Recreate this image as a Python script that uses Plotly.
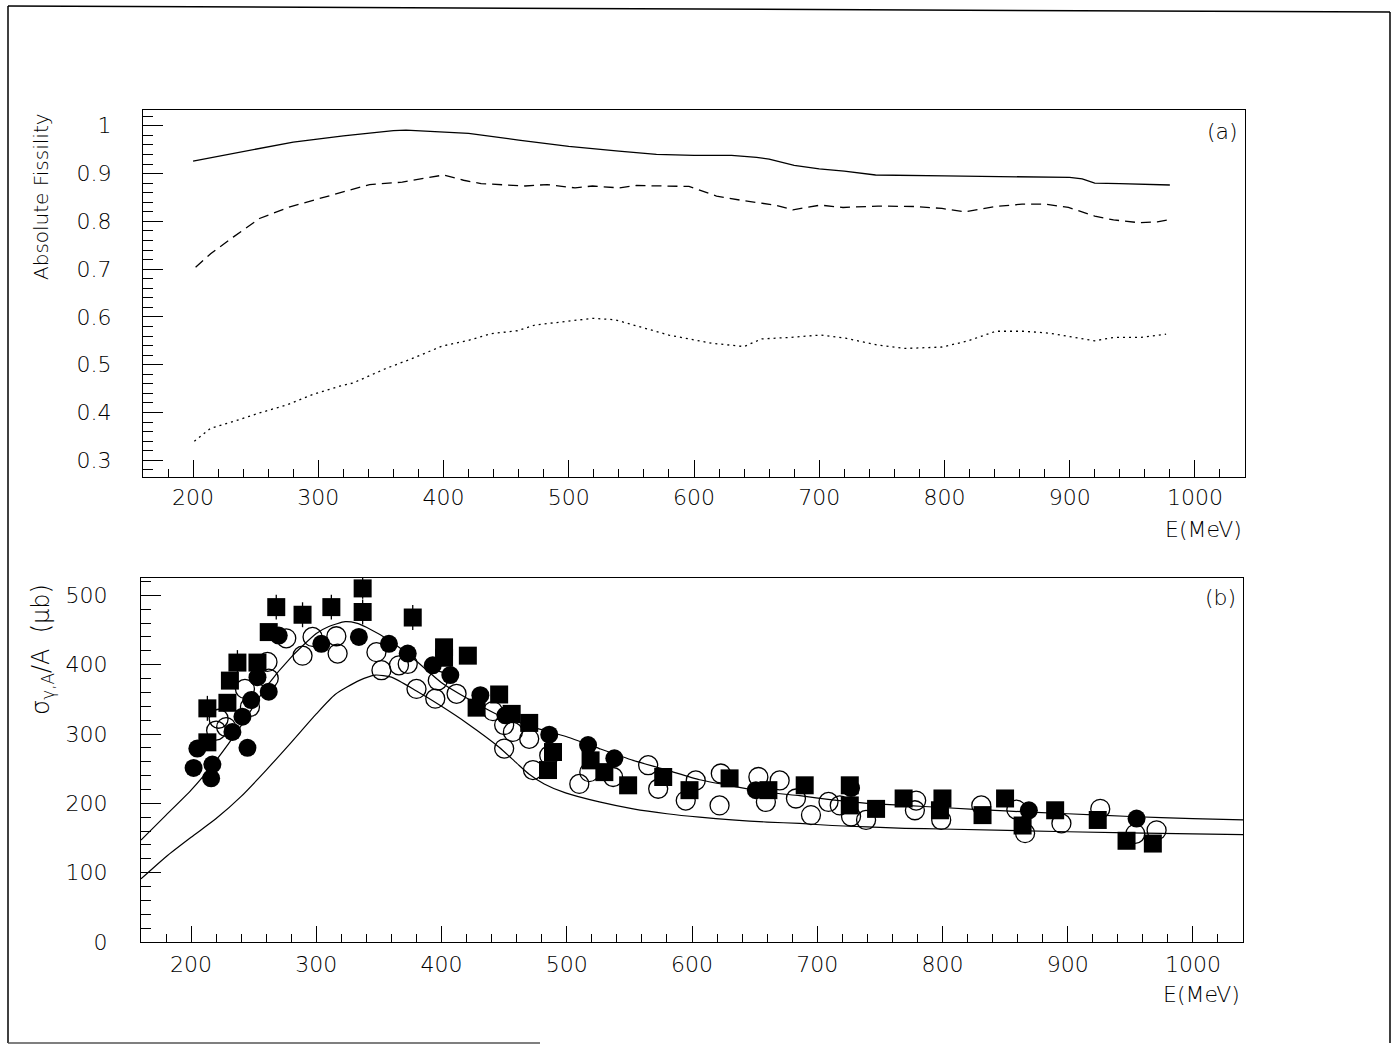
import plotly.graph_objects as go

# ---------------- Panel (a): absolute fissility ----------------
solid_E = [200, 220, 260, 280, 320, 360, 370, 400, 420, 460, 500, 540, 570, 600, 630, 650, 660, 680, 700, 720, 745, 800, 860, 900, 910, 920, 940, 980]
solid_F = [0.926, 0.936, 0.955, 0.966, 0.979, 0.990, 0.991, 0.987, 0.984, 0.970, 0.957, 0.947, 0.940, 0.938, 0.938, 0.934, 0.930, 0.917, 0.910, 0.905, 0.897, 0.895, 0.893, 0.892, 0.889, 0.880, 0.879, 0.876]

dashed_E = [202, 214, 232, 253, 278, 313, 341, 367, 400, 416, 430, 465, 483, 505, 519, 540, 554, 596, 618, 640, 665, 679, 701, 719, 747, 776, 798, 816, 841, 862, 881, 899, 920, 935, 956, 970, 981]
dashed_F = [0.704, 0.732, 0.767, 0.806, 0.831, 0.856, 0.877, 0.882, 0.897, 0.886, 0.879, 0.874, 0.877, 0.870, 0.874, 0.870, 0.875, 0.873, 0.853, 0.843, 0.834, 0.824, 0.834, 0.829, 0.832, 0.831, 0.827, 0.820, 0.831, 0.836, 0.836, 0.829, 0.811, 0.803, 0.797, 0.799, 0.804]

dotted_E = [201, 214, 232, 253, 275, 296, 317, 328, 353, 374, 399, 420, 438, 459, 473, 495, 519, 537, 558, 580, 600, 614, 640, 654, 676, 701, 722, 747, 769, 798, 819, 841, 863, 884, 902, 920, 935, 956, 977]
dotted_F = [0.340, 0.367, 0.381, 0.399, 0.416, 0.438, 0.455, 0.462, 0.491, 0.512, 0.539, 0.551, 0.565, 0.571, 0.583, 0.590, 0.597, 0.594, 0.579, 0.562, 0.552, 0.545, 0.538, 0.554, 0.557, 0.562, 0.555, 0.541, 0.534, 0.537, 0.550, 0.570, 0.570, 0.566, 0.558, 0.550, 0.557, 0.557, 0.564]

# ---------------- Panel (b): photoabsorption cross section ----------------
upper_E = [160, 180, 200, 220, 240, 260, 280, 300, 310, 323, 332, 340, 360, 380, 400, 420, 446, 473, 500, 526, 553, 580, 606, 632, 660, 686, 712, 740, 770, 800, 850, 900, 950, 1000, 1040]
upper_S = [147, 183, 219, 262, 312, 368, 411, 445, 455, 462, 460, 454, 433, 405, 374, 352, 327, 310, 296, 279, 262, 248, 234, 225, 216, 211, 205, 200, 197, 194, 189, 185, 181, 178, 176]

lower_E = [160, 180, 200, 220, 240, 260, 280, 300, 315, 334, 347, 360, 380, 400, 420, 446, 460, 470, 482, 499, 526, 553, 580, 606, 632, 660, 686, 712, 740, 770, 800, 900, 1000, 1040]
lower_S = [91, 123, 151, 178, 210, 248, 288, 329, 357, 377, 385, 382, 362, 340, 316, 281, 258, 242, 228, 215, 202, 192, 185, 180, 176, 173, 171, 168, 166, 164, 163, 159, 156, 155]

sq_E = [213, 213, 229, 231, 237, 253, 262, 268, 289, 312, 337, 337, 377, 402, 402, 421, 428, 446, 456, 470, 485, 489, 519, 530, 549, 577, 598, 630, 661, 690, 726, 726, 747, 769, 800, 798, 832, 850, 864, 890, 924, 947, 968]
sq_S = [337, 288, 345, 377, 403, 403, 447, 483, 472, 483, 510, 476, 468, 425, 410, 413, 338, 357, 329, 316, 248, 274, 262, 245, 226, 238, 219, 236, 219, 226, 226, 197, 192, 207, 207, 190, 183, 207, 168, 190, 176, 146, 142]
sq_err = [18, 0, 0, 0, 18, 0, 0, 18, 18, 18, 15, 18, 18, 0, 0, 0, 0, 0, 0, 0, 0, 0, 0, 0, 0, 0, 0, 0, 0, 0, 8, 0, 0, 0, 0, 0, 0, 0, 0, 0, 8, 0, 0]

fc_E = [202, 217, 216, 205, 233, 245, 241, 248, 262, 253, 270, 304, 334, 358, 373, 393, 407, 431, 451, 486, 517, 538, 651, 727, 869, 955]
fc_S = [251, 256, 236, 279, 303, 280, 325, 349, 361, 382, 442, 430, 440, 430, 416, 399, 385, 356, 327, 299, 284, 265, 219, 222, 190, 178]

oc_E = [276, 297, 316, 289, 317, 261, 262, 243, 247, 222, 220, 228, 348, 366, 373, 352, 380, 397, 395, 412, 441, 450, 457, 470, 450, 486, 473, 518, 537, 510, 565, 573, 603, 595, 622, 623, 653, 670, 659, 683, 695, 709, 718, 727, 739, 779, 778, 799, 831, 859, 866, 895, 926, 954, 971]
oc_S = [438, 440, 441, 413, 416, 404, 380, 365, 339, 322, 305, 310, 418, 399, 401, 392, 365, 377, 351, 358, 333, 313, 303, 293, 279, 269, 248, 245, 238, 228, 255, 221, 233, 204, 197, 243, 238, 233, 202, 207, 183, 202, 197, 181, 176, 204, 190, 176, 197, 191, 157, 171, 192, 156, 161]

x_ticks = [200, 300, 400, 500, 600, 700, 800, 900, 1000]
fis_ticks = [0.3, 0.4, 0.5, 0.6, 0.7, 0.8, 0.9, 1.0]
fis_labels = ["0.3", "0.4", "0.5", "0.6", "0.7", "0.8", "0.9", "1"]
sig_ticks = [0, 100, 200, 300, 400, 500]

W, H = 1395, 1046          # target picture size (positions are read in this frame)
FIG_H = 1059               # rendered height (compensates the vertical squeeze seen in the photo)
FONT = "DejaVu Sans ExtraLight, DejaVu Sans Light, DejaVu Sans"

fig = go.Figure()

line_w = 1.3
fig.add_trace(go.Scatter(x=solid_E, y=solid_F, mode="lines", line=dict(color="black", width=line_w), xaxis="x", yaxis="y"))
fig.add_trace(go.Scatter(x=dashed_E, y=dashed_F, mode="lines", line=dict(color="black", width=line_w, dash="10px,6px"), xaxis="x", yaxis="y"))
fig.add_trace(go.Scatter(x=dotted_E, y=dotted_F, mode="lines", line=dict(color="black", width=line_w, dash="2px,4px"), xaxis="x", yaxis="y"))

fig.add_trace(go.Scatter(x=upper_E, y=upper_S, mode="lines", line=dict(color="black", width=1.2, shape="spline", smoothing=0.6), xaxis="x2", yaxis="y2"))
fig.add_trace(go.Scatter(x=lower_E, y=lower_S, mode="lines", line=dict(color="black", width=1.2, shape="spline", smoothing=0.6), xaxis="x2", yaxis="y2"))

fig.add_trace(go.Scatter(x=oc_E, y=oc_S, mode="markers",
                         marker=dict(symbol="circle-open", size=19, color="black", line=dict(width=1.3, color="black")),
                         xaxis="x2", yaxis="y2"))
fig.add_trace(go.Scatter(x=fc_E, y=fc_S, mode="markers",
                         marker=dict(symbol="circle", size=18, color="black"),
                         xaxis="x2", yaxis="y2"))
fig.add_trace(go.Scatter(x=sq_E, y=sq_S, mode="markers",
                         marker=dict(symbol="square", size=18, color="black"),
                         error_y=dict(type="data", array=sq_err, visible=True, color="black", thickness=1.3, width=0),
                         xaxis="x2", yaxis="y2"))

def px_x(p):
    return p / W

def px_y(p):
    return 1 - p / H

common = dict(showgrid=False, zeroline=False, showline=True, mirror=True, linecolor="black", linewidth=1.3,
              ticks="inside", tickcolor="black", tickwidth=1,
              tickfont=dict(family=FONT, size=22, color="black"))

fig.update_layout(
    width=W, height=FIG_H, margin=dict(l=0, r=0, t=0, b=0),
    paper_bgcolor="white", plot_bgcolor="white", showlegend=False,
    xaxis=dict(domain=[px_x(143), px_x(1245)], range=[160, 1040], anchor="y",
               tickmode="array", tickvals=x_ticks, ticklen=17, ticklabelstandoff=0,
               minor=dict(ticks="inside", tickmode="linear", tick0=0, dtick=20, ticklen=8, tickcolor="black", tickwidth=1),
               **common),
    yaxis=dict(domain=[px_y(477), px_y(110)], range=[0.265, 1.033], anchor="x",
               tickmode="array", tickvals=fis_ticks, ticktext=fis_labels, ticklen=20, ticklabelstandoff=26,
               minor=dict(ticks="inside", tickmode="linear", tick0=0, dtick=0.02, ticklen=10, tickcolor="black", tickwidth=1),
               **common),
    xaxis2=dict(domain=[px_x(141), px_x(1243)], range=[160, 1040], anchor="y2",
                tickmode="array", tickvals=x_ticks, ticklen=16, ticklabelstandoff=2,
                minor=dict(ticks="inside", tickmode="linear", tick0=0, dtick=20, ticklen=8, tickcolor="black", tickwidth=1),
                **common),
    yaxis2=dict(domain=[px_y(942), px_y(578)], range=[0, 525], anchor="x2",
                tickmode="array", tickvals=sig_ticks, ticklen=20, ticklabelstandoff=28,
                minor=dict(ticks="inside", tickmode="linear", tick0=0, dtick=20, ticklen=10, tickcolor="black", tickwidth=1),
                **common),
)

ann_font = dict(family=FONT, size=22, color="black")
annotations = [
    dict(text="Absolute Fissility", x=px_x(41), y=px_y(197), textangle=-90, font=dict(family=FONT, size=20, color="black")),
    dict(text="σ<sub>γ,A</sub>/A \u00a0(μb)", x=px_x(42), y=px_y(650), textangle=-90, font=dict(family=FONT, size=24, color="black")),
    dict(text="(a)", x=px_x(1240), y=px_y(131), xanchor="right", font=ann_font),
    dict(text="(b)", x=px_x(1238), y=px_y(597), xanchor="right", font=ann_font),
    dict(text="E(MeV)", x=px_x(1244), y=px_y(515), xanchor="right", yanchor="top", font=ann_font),
    dict(text="E(MeV)", x=px_x(1242), y=px_y(980), xanchor="right", yanchor="top", font=ann_font),
]
for a in annotations:
    a.update(xref="paper", yref="paper", showarrow=False)
    a.setdefault("xanchor", "center")
    a.setdefault("yanchor", "middle")
fig.update_layout(annotations=annotations)

border = dict(color="black", width=1.5)
shapes = [
    dict(type="line", x0=px_x(8), y0=px_y(6), x1=px_x(1390), y1=px_y(12), line=border),
    dict(type="line", x0=px_x(8), y0=px_y(6), x1=px_x(8), y1=px_y(1043), line=border),
    dict(type="line", x0=px_x(1390), y0=px_y(12), x1=px_x(1390), y1=px_y(1043), line=border),
    dict(type="line", x0=px_x(8), y0=px_y(1043), x1=px_x(540), y1=px_y(1043), line=dict(color="#555555", width=1.5)),
]
for s in shapes:
    s.update(xref="paper", yref="paper")
fig.update_layout(shapes=shapes)

post = ("document.documentElement.style.margin='0';document.documentElement.style.padding='0';"
        "document.body.style.margin='0';document.body.style.padding='0';document.body.style.overflow='hidden';")
fig.write_html("out.html", config={"displayModeBar": False}, post_script=post)
